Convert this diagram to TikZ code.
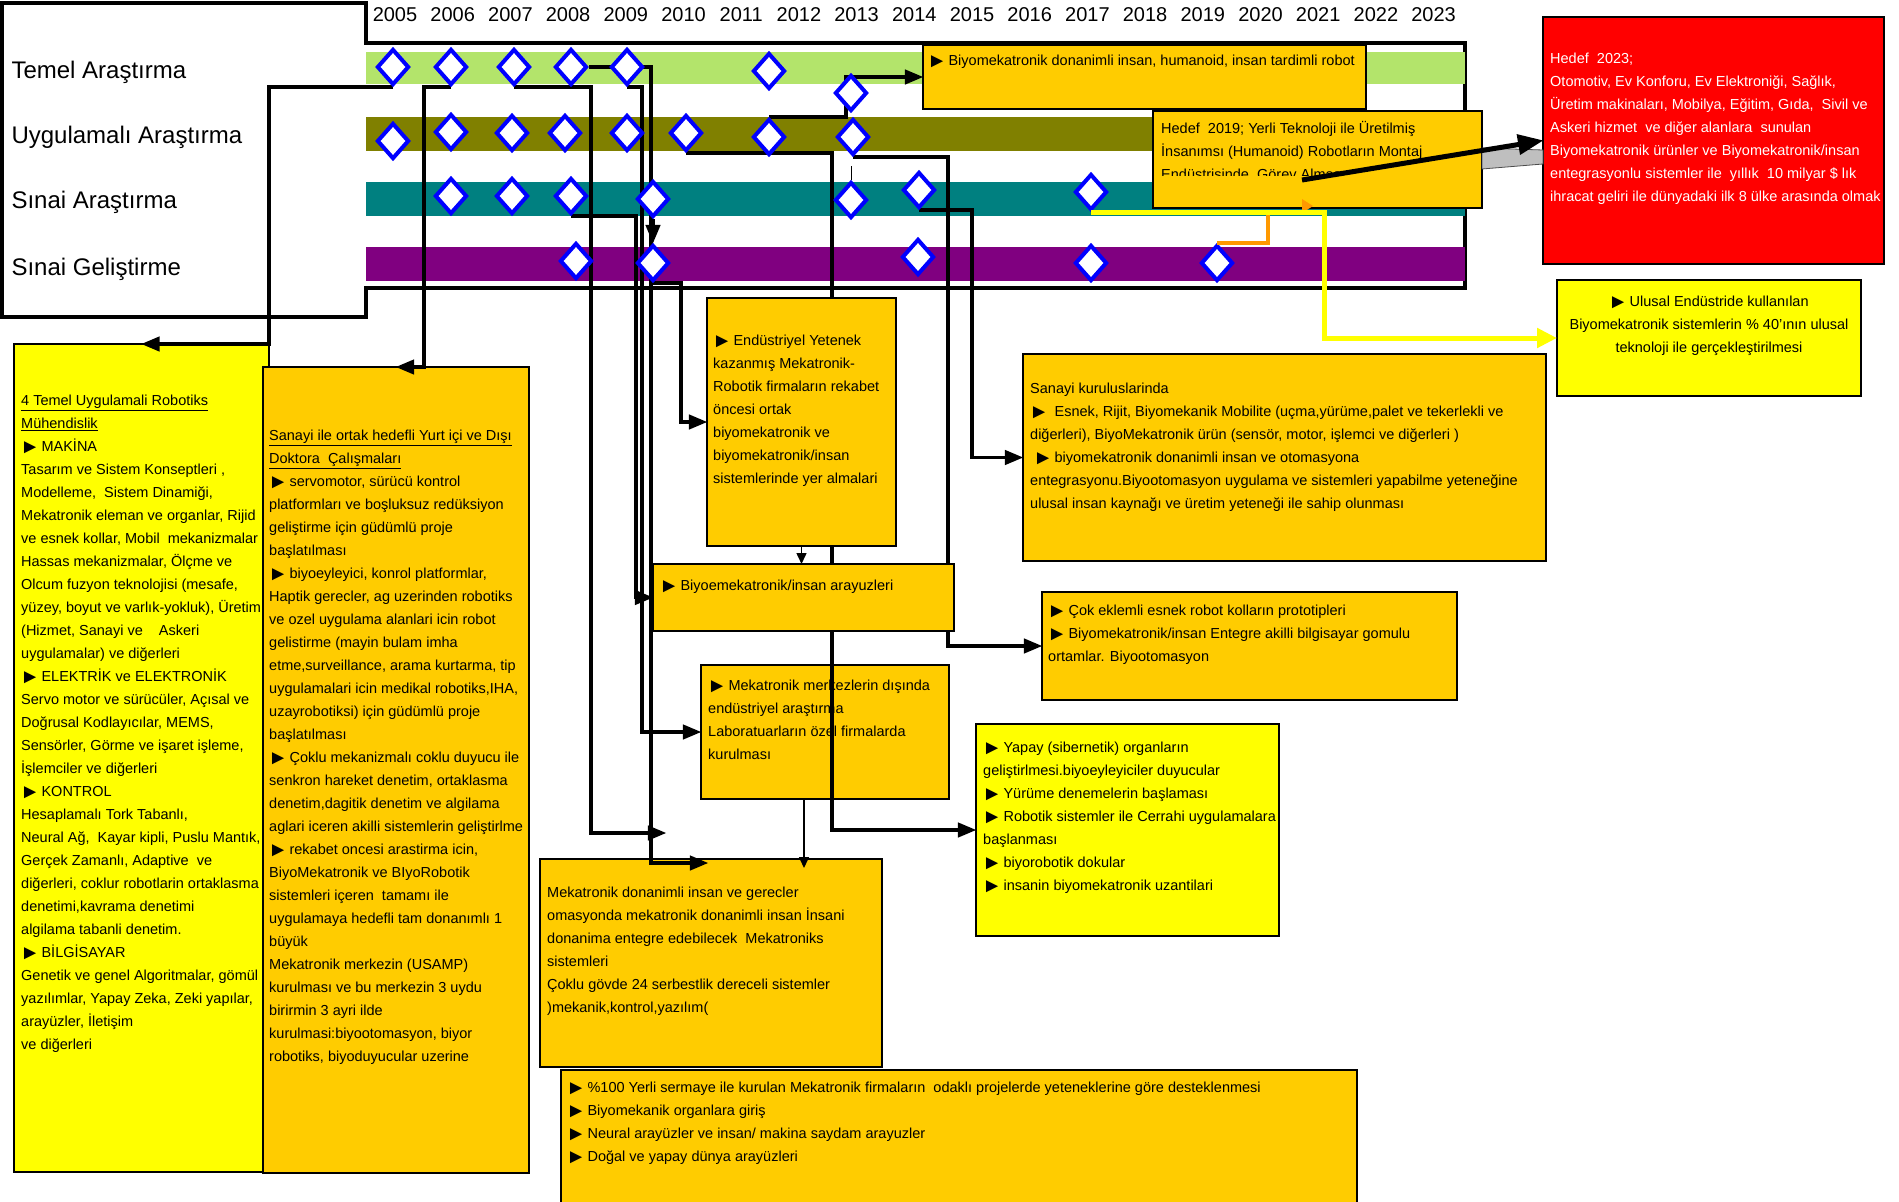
\documentclass[tikz,border=0pt]{standalone}
\usepackage{fontspec}
\setmainfont{Liberation Sans}
\usetikzlibrary{arrows, arrows.meta, shapes.geometric}
\pgfdeclarelayer{bars}
\pgfdeclarelayer{boxes}
\pgfdeclarelayer{wires}
\pgfsetlayers{bars,boxes,wires,main}
\definecolor{barlime}{RGB}{179,228,107}
\definecolor{barolive}{RGB}{128,128,0}
\definecolor{barteal}{RGB}{0,128,128}
\definecolor{barpurple}{RGB}{128,0,128}
\definecolor{boxgold}{RGB}{255,204,0}
\definecolor{boxyellow}{RGB}{255,255,0}
\definecolor{boxred}{RGB}{255,0,0}
\definecolor{linkorange}{RGB}{255,153,0}
\definecolor{diablue}{RGB}{0,0,255}
\newcommand{\tri}{\kern-0.08em\raisebox{-0.12em}{\scalebox{1.4}{►}}\kern-0.18em}

\begin{document}
\begin{tikzpicture}[x=1pt, y=-1pt, >=triangle 45,
  frameline/.style={line width=4.5pt},
  yearlbl/.style={anchor=base, font=\fontsize{20}{24}\selectfont},
  rowlbl/.style={anchor=base west, font=\fontsize{24}{28}\selectfont},
  box/.style={draw, line width=1.6pt, inner sep=0pt, outer sep=0pt},
  goldbox/.style={box, fill=boxgold},
  ylwbox/.style={box, fill=boxyellow},
  boxtxt/.style={anchor=north west, inner sep=0pt, align=left, font=\fontsize{14.5}{23}\selectfont},
  mstone/.style={diamond, draw=diablue, line width=4pt, fill=white, minimum width=32pt, minimum height=36pt, inner sep=0pt},
  link/.style={line width=3.3pt, ->},
  thinlink/.style={line width=1.5pt, -{Triangle[length=11pt,width=10pt]}},
  bigarrow/.style={line width=5pt, ->},
  ylwlink/.style={draw=boxyellow, line width=5pt, -{Triangle[length=20pt,width=19pt]}},
  orglink/.style={draw=linkorange, line width=4pt}]
\useasboundingbox (0,0) rectangle (1899,1202);

\node[yearlbl] (y2005) at (395,21) {2005};
\node[yearlbl] (y2006) at (452.7,21) {2006};
\node[yearlbl] (y2007) at (510.4,21) {2007};
\node[yearlbl] (y2008) at (568.1,21) {2008};
\node[yearlbl] (y2009) at (625.8,21) {2009};
\node[yearlbl] (y2010) at (683.5,21) {2010};
\node[yearlbl] (y2011) at (741.2,21) {2011};
\node[yearlbl] (y2012) at (798.9,21) {2012};
\node[yearlbl] (y2013) at (856.6,21) {2013};
\node[yearlbl] (y2014) at (914.3,21) {2014};
\node[yearlbl] (y2015) at (972,21) {2015};
\node[yearlbl] (y2016) at (1029.7,21) {2016};
\node[yearlbl] (y2017) at (1087.4,21) {2017};
\node[yearlbl] (y2018) at (1145.1,21) {2018};
\node[yearlbl] (y2019) at (1202.8,21) {2019};
\node[yearlbl] (y2020) at (1260.5,21) {2020};
\node[yearlbl] (y2021) at (1318.2,21) {2021};
\node[yearlbl] (y2022) at (1375.9,21) {2022};
\node[yearlbl] (y2023) at (1433.6,21) {2023};

\node[rowlbl] (lta) at (8,78) {Temel Araştırma};
\node[rowlbl] (lua) at (8,143) {Uygulamalı Araştırma};
\node[rowlbl] (lsa) at (8,208) {Sınai Araştırma};
\node[rowlbl] (lsg) at (8,275) {Sınai Geliştirme};

\begin{pgfonlayer}{bars}
\draw[frameline] (366,288) -- (366,317) -- (2,317) -- (2,3) -- (366,3) -- (366,43) -- (1465,43) -- (1465,288) -- cycle;
\fill[barlime] (366,52) rectangle (1465,84);
\fill[barolive] (366,117) rectangle (1465,151);
\fill[barteal] (366,182) rectangle (1465,216);
\fill[barpurple] (366,247) rectangle (1465,281);
\end{pgfonlayer}

\begin{pgfonlayer}{boxes}
\node[ylwbox, minimum width=255, minimum height=828] (lbox) at (141.5,758) {};
\node[boxtxt] (lboxt) at (21,389) {\strut\underline{4 Temel Uygulamali Robotiks}\\
\underline{Mühendislik}\\
\tri\ MAKİNA\\
Tasarım ve Sistem Konseptleri ,\\
Modelleme,\ \ Sistem Dinamiği,\\
Mekatronik eleman ve organlar, Rijid\\
ve esnek kollar, Mobil\ \ mekanizmalar\\
Hassas mekanizmalar, Ölçme ve\\
Olcum fuzyon teknolojisi (mesafe,\\
yüzey, boyut ve varlık-yokluk), Üretim\\
(Hizmet, Sanayi ve\ \ \ \ Askeri\\
uygulamalar) ve diğerleri\\
\tri\ ELEKTRİK ve ELEKTRONİK\\
Servo motor ve sürücüler, Açısal ve\\
Doğrusal Kodlayıcılar, MEMS,\\
Sensörler, Görme ve işaret işleme,\\
İşlemciler ve diğerleri\\
\tri\ KONTROL\\
Hesaplamalı Tork Tabanlı,\\
Neural Ağ,\ \ Kayar kipli, Puslu Mantık,\\
Gerçek Zamanlı, Adaptive\ \ ve\\
diğerleri, coklur robotlarin ortaklasma\\
denetimi,kavrama denetimi\\
algilama tabanli denetim.\\
\tri\ BİLGİSAYAR\\
Genetik ve genel Algoritmalar, gömül\\
yazılımlar, Yapay Zeka, Zeki yapılar,\\
arayüzler, İletişim\\
ve diğerleri};
\node[goldbox, minimum width=266, minimum height=806] (dbox) at (396,770) {};
\begin{scope}
\clip (dbox.north west) rectangle (dbox.south east);
\node[boxtxt] (dboxt) at (269,424) {\strut\underline{Sanayi ile ortak hedefli Yurt içi ve Dışı}\\
\underline{Doktora\ \ Çalışmaları}\\
\tri\ servomotor, sürücü kontrol\\
platformları ve boşluksuz redüksiyon\\
geliştirme için güdümlü proje\\
başlatılması\\
\tri\ biyoeyleyici, konrol platformlar,\\
Haptik gerecler, ag uzerinden robotiks\\
ve ozel uygulama alanlari icin robot\\
gelistirme (mayin bulam imha\\
etme,surveillance, arama kurtarma, tip\\
uygulamalari icin medikal robotiks,IHA,\\
uzayrobotiksi) için güdümlü proje\\
başlatılması\\
\tri\ Çoklu mekanizmalı coklu duyucu ile\\
senkron hareket denetim, ortaklasma\\
denetim,dagitik denetim ve algilama\\
aglari iceren akilli sistemlerin geliştirlme\\
\tri\ rekabet oncesi arastirma icin,\\
BiyoMekatronik ve BIyoRobotik\\
sistemleri içeren\ \ tamamı ile\\
uygulamaya hedefli tam donanımlı 1\\
büyük\\
Mekatronik merkezin (USAMP)\\
kurulması ve bu merkezin 3 uydu\\
birirmin 3 ayri ilde\\
kurulmasi:biyootomasyon, biyor\\
robotiks, biyoduyucular uzerine};
\end{scope}
\node[goldbox, minimum width=248, minimum height=134] (mmbox) at (825,732) {};
\node[boxtxt] (mmt) at (708,674) {\strut\tri\ Mekatronik merkezlerin dışında\\
endüstriyel araştırma\\
Laboratuarların özel firmalarda\\
kurulması};
\node[goldbox, minimum width=342, minimum height=208] (mdbox) at (711,963) {};
\node[boxtxt] (mdt) at (547,881) {\strut Mekatronik donanimli insan ve gerecler\\
omasyonda mekatronik donanimli insan İnsani\\
donanima entegre edebilecek\ \ Mekatroniks\\
sistemleri\\
Çoklu gövde 24 serbestlik dereceli sistemler\\
)mekanik,kontrol,yazılım(};
\node[goldbox, minimum width=796, minimum height=145] (botb) at (959,1142.5) {};
\node[boxtxt] (bott) at (567,1076) {\strut\tri\ \%100 Yerli sermaye ile kurulan Mekatronik firmaların\ \ odaklı projelerde yeteneklerine göre desteklenmesi\\
\tri\ Biyomekanik organlara giriş\\
\tri\ Neural arayüzler ve insan/ makina saydam arayuzler\\
\tri\ Doğal ve yapay dünya arayüzleri};
\node[goldbox, minimum width=523, minimum height=207] (sanb) at (1284.5,457.5) {};
\node[boxtxt] (sant) at (1030,377) {\strut Sanayi kuruluslarinda\\
\tri\ \ Esnek, Rijit, Biyomekanik Mobilite (uçma,yürüme,palet ve tekerlekli ve\\
diğerleri), BiyoMekatronik ürün (sensör, motor, işlemci ve diğerleri )\\
\ \tri\ biyomekatronik donanimli insan ve otomasyona\\
entegrasyonu.Biyootomasyon uygulama ve sistemleri yapabilme yeteneğine\\
ulusal insan kaynağı ve üretim yeteneği ile sahip olunması};
\node[goldbox, minimum width=415, minimum height=108] (cokb) at (1249.5,646) {};
\node[boxtxt] (cokt) at (1048,599) {\strut\tri\ Çok eklemli esnek robot kolların prototipleri\\
\tri\ Biyomekatronik/insan Entegre akilli bilgisayar gomulu\\
ortamlar. Biyootomasyon};
\node[ylwbox, minimum width=303, minimum height=212] (yapb) at (1127.5,830) {};
\begin{scope}
\clip (yapb.north west) rectangle (yapb.south east);
\node[boxtxt] (yapt) at (983,736) {\strut\tri\ Yapay (sibernetik) organların\\
geliştirlmesi.biyoeyleyiciler duyucular\\
\tri\ Yürüme denemelerin başlaması\\
\tri\ Robotik sistemler ile Cerrahi uygulamalara\\
başlanması\\
\tri\ biyorobotik dokular\\
\tri\ insanin biyomekatronik uzantilari};
\end{scope}
\node[goldbox, minimum width=443, minimum height=64] (topb) at (1144.5,77) {};
\node[boxtxt] (topt) at (928,49) {\strut\tri\ Biyomekatronik donanimli insan, humanoid, insan tardimli robot};
\node[goldbox, minimum width=329, minimum height=97] (hedb) at (1317.5,159.5) {};
\coordinate (hcut) at (1482,175);
\begin{scope}
\clip (hedb.north west) rectangle (hcut);
\node[boxtxt] (hedt) at (1161,117) {\strut Hedef\ \ 2019; Yerli Teknoloji ile Üretilmiş\\
İnsanımsı (Humanoid) Robotların Montaj\\
Endüstrisinde\ \ Görev Alması};
\end{scope}
\node[box, fill=boxred, minimum width=341, minimum height=247] (redb) at (1713.5,140.5) {};
\begin{scope}
\clip (redb.north west) rectangle (redb.south east);
\node[boxtxt, text=white] (redt) at (1550,47) {\strut Hedef\ \ 2023;\\
Otomotiv, Ev Konforu, Ev Elektroniği, Sağlık,\\
Üretim makinaları, Mobilya, Eğitim, Gıda,\ \ Sivil ve\\
Askeri hizmet\ \ ve diğer alanlara\ \ sunulan\\
Biyomekatronik ürünler ve Biyomekatronik/insan\\
entegrasyonlu sistemler ile\ \ yıllık\ \ 10 milyar \$ lık\\
ihracat geliri ile dünyadaki ilk 8 ülke arasında olmak};
\end{scope}
\node[ylwbox, minimum width=304, minimum height=116] (ulb) at (1709,338) {};
\node[boxtxt, anchor=north, align=center] (ult) at (1709,290) {\strut\tri\ Ulusal Endüstride kullanılan\\
Biyomekatronik sistemlerin \% 40'ının ulusal\\
teknoloji ile gerçekleştirilmesi};
\end{pgfonlayer}

\node[goldbox, minimum width=189, minimum height=248] (endb) at (801.5,422) {};
\node[boxtxt] (endt) at (713,329) {\strut\tri\ Endüstriyel Yetenek\\
kazanmış Mekatronik-\\
Robotik firmaların rekabet\\
öncesi ortak\\
biyomekatronik ve\\
biyomekatronik/insan\\
sistemlerinde yer almalari};
\node[goldbox, minimum width=301, minimum height=67] (bibox) at (803.5,597.5) {};
\node[boxtxt] (bit) at (660,574) {\strut\tri\ Biyoemekatronik/insan arayuzleri};

\node[mstone] (ta1) at (393,67) {};
\node[mstone] (ta2) at (451,67) {};
\node[mstone] (ta3) at (514,67) {};
\node[mstone] (ta4) at (571,67) {};
\node[mstone] (ta5) at (627,67) {};
\node[mstone] (ta6) at (769,71) {};
\node[mstone] (ta7) at (851,93) {};
\node[mstone] (ua1) at (393,141) {};
\node[mstone] (ua2) at (451,132) {};
\node[mstone] (ua3) at (512,133) {};
\node[mstone] (ua4) at (565,133) {};
\node[mstone] (ua5) at (627,133) {};
\node[mstone] (ua6) at (686,133) {};
\node[mstone] (ua7) at (769,137) {};
\node[mstone] (ua8) at (853,137) {};
\node[mstone] (sa1) at (451,196) {};
\node[mstone] (sa2) at (512,196) {};
\node[mstone] (sa3) at (571,196) {};
\node[mstone] (sa4) at (653,199) {};
\node[mstone] (sa5) at (851,200) {};
\node[mstone] (sa6) at (919,190) {};
\node[mstone] (sa7) at (1091,192) {};
\node[mstone] (sg1) at (576,261) {};
\node[mstone] (sg2) at (653,263) {};
\node[mstone] (sg3) at (918,257) {};
\node[mstone] (sg4) at (1091,263) {};
\node[mstone] (sg5) at (1217,263) {};

\begin{pgfonlayer}{wires}
\coordinate (kA) at (269,344);
\coordinate (kB) at (424,367);
\coordinate (kC) at (591,833);
\coordinate (kCe) at (666,833);
\coordinate (kD1) at (651,863);
\coordinate (kD1e) at (708,863);
\coordinate (kD2) at (642,732);
\coordinate (kD3) at (636,597.5);
\coordinate (kD5) at (681,422);
\coordinate (kE) at (832,830);
\coordinate (kF) at (948,646);
\coordinate (kG) at (972,457.5);
\coordinate (kH) at (846,77);
\coordinate (kM) at (804,868);
\draw[link] (ta1.south) -| (kA) -- (lbox.north);
\draw[link] (ta2.south) -| (kB) -- (dbox.north);
\draw[link] (ta3.south) -| (kC) -- (kCe);
\draw[link] (ta4.east) -| (kD1) -- (kD1e);
\draw[link] (ta5.south) -| (kD2) -- (mmbox.west);
\draw[link] (sa3.south) -| (kD3) -- (bibox.west);
\draw[link] (sa4.south) -- (sg2.north);
\draw[link] (sg2.south) -| (kD5) -- (endb.west);
\draw[link] (ua6.south) -| (kE) -- (yapb.west);
\draw[link] (ua8.south) -| (kF) -- (cokb.west);
\draw[link] (sa6.south) -| (kG) -- (sanb.west);
\draw[link] (ua7.north) -| (kH) -- (topb.west);
\draw[thinlink] (endb.south) -- (endb.south |- bibox.north);
\draw[thinlink] (mmbox.south -| kM) -- (kM);
\draw[line width=1pt] (sa5.north) -- ++(0,-14);
\end{pgfonlayer}

\coordinate (kO) at (1268,212);
\coordinate (kY) at (1324,338);
\coordinate (kK) at (1302,180);
\filldraw[fill=black!25, draw=black!70, line width=0.8pt] (1482,148) -- (1543,150) -- (1543,164) -- (1482,169) -- cycle;
\draw[orglink] (sg5.north) -| (kO);
\fill[linkorange] (1302,199) -- (1313,206) -- (1302,213) -- cycle;
\draw[ylwlink] (sa7.south) -| (kY) -- (ulb.west);
\draw[bigarrow] (kK) -- (redb.west);
\end{tikzpicture}
\end{document}
